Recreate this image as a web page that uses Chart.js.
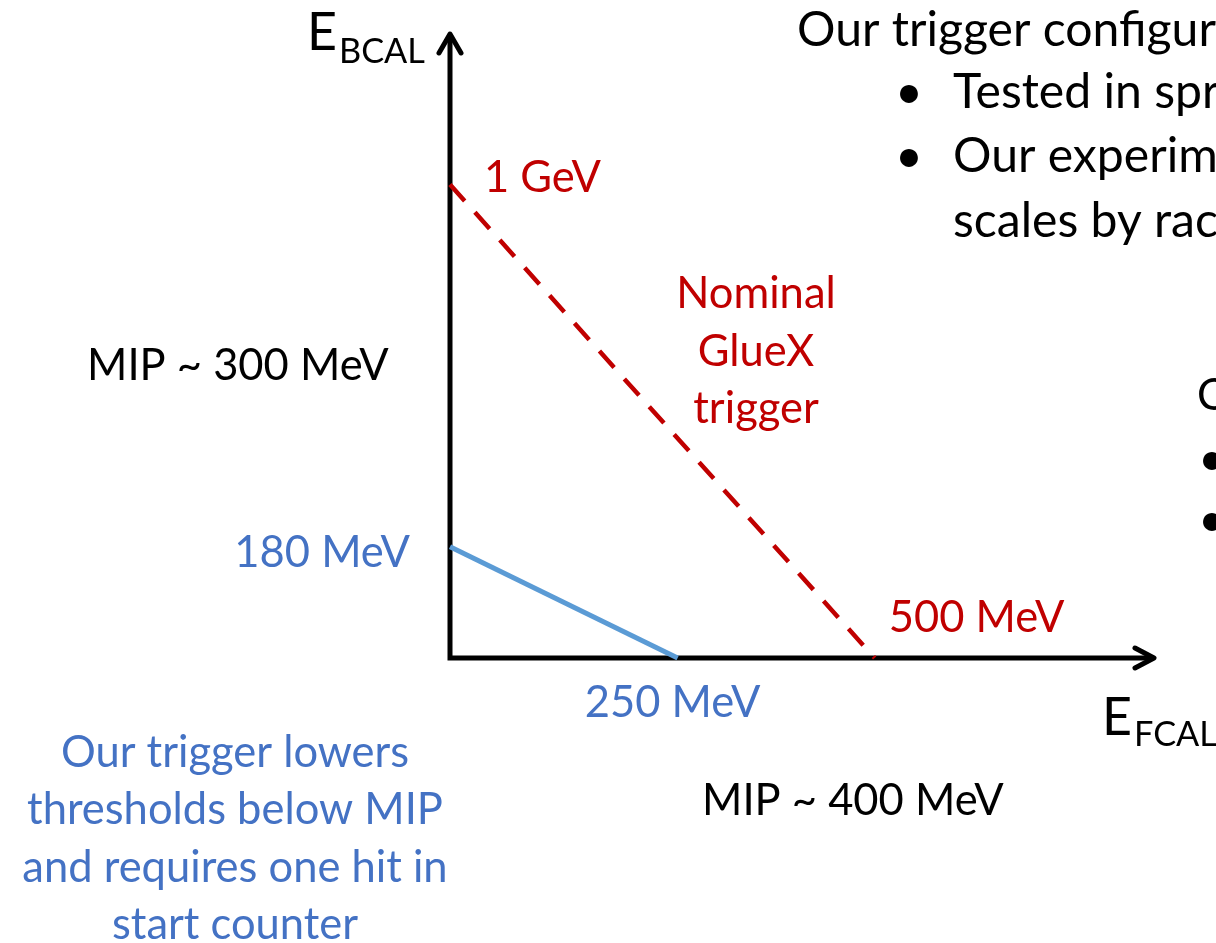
<!DOCTYPE html>
<html>
<head>
<meta charset="utf-8">
<script src="https://cdn.jsdelivr.net/npm/chart.js@4.4.1/dist/chart.umd.min.js"></script>
<style>
  html, body { margin: 0; padding: 0; background: #fff; overflow: hidden; }
  #chart { display: block; }
</style>
</head>
<body>
<canvas id="chart" width="1216" height="943"></canvas>
<script>
// schematic axes (not to scale, roughly MeV)
const xRange = [0, 830];
const yRange = [0, 1320];

// nominal GlueX trigger line
const nominalX = [0, 500];
const nominalY = [1000, 0];

// our trigger line
const oursX = [0, 268];
const oursY = [235, 0];

const nominalLabels = ["1 GeV", "500 MeV"];
const oursLabels = ["180 MeV", "250 MeV"];
const mipLabels = ["MIP ~ 300 MeV", "MIP ~ 400 MeV"];
const nominalNote = ["Nominal", "GlueX", "trigger"];
const oursNote = ["Our trigger lowers", "thresholds below MIP", "and requires one hit in", "start counter"];
const sideText = ["Our trigger configuration", "Tested in spring", "Our experiment", "scales by rack"];

const RED = "#C00000";
const BLUE_TXT = "#4472C4";
const BLUE_LINE = "#5B9BD5";
const FONT = "Lato, 'Open Sans', sans-serif";

const toPoints = (xs, ys) => xs.map((x, i) => ({ x: x, y: ys[i] }));

const ctx0 = document.getElementById("chart").getContext("2d");
// font size that makes a string as wide as it is on the slide
function fit(s, w) {
  ctx0.font = "100px " + FONT;
  return 100 * w / ctx0.measureText(s).width;
}
const bodyPx = (fit(mipLabels[0], 296) + fit(oursNote[0], 350) + fit(oursNote[1], 422)) / 3;
const sidePx = fit("Our trigger configur", 419);
const bigEPx = fit("E", 30);
const subPx = fit("BCAL", 86);

function txt(ctx, s, x, y, color, px, align) {
  ctx.font = px + "px " + FONT;
  ctx.fillStyle = color;
  ctx.textAlign = align || "left";
  ctx.textBaseline = "alphabetic";
  ctx.fillText(s, x, y);
}

const slidePlugin = {
  id: "slide",
  beforeDatasetsDraw(chart) {
    const ctx = chart.ctx;
    const xs = chart.scales.x, ys = chart.scales.y;
    const x0 = xs.getPixelForValue(xRange[0]);
    const y0 = ys.getPixelForValue(yRange[0]);
    const xEnd = xs.getPixelForValue(xRange[1]);
    const yEnd = ys.getPixelForValue(yRange[1]);
    ctx.save();
    ctx.strokeStyle = "#000";
    ctx.lineWidth = 5;
    ctx.lineJoin = "miter";
    ctx.beginPath();
    ctx.moveTo(x0, yEnd + 3);
    ctx.lineTo(x0, y0);
    ctx.lineTo(xEnd - 3, y0);
    ctx.stroke();
    // arrow heads
    ctx.lineCap = "round";
    ctx.lineJoin = "round";
    ctx.beginPath();
    ctx.moveTo(xEnd - 20, y0 - 10);
    ctx.lineTo(xEnd - 1, y0);
    ctx.lineTo(xEnd - 20, y0 + 10);
    ctx.moveTo(x0 - 11, yEnd + 20);
    ctx.lineTo(x0, yEnd + 1);
    ctx.lineTo(x0 + 11, yEnd + 20);
    ctx.stroke();
    ctx.restore();
  },
  afterDatasetsDraw(chart) {
    const ctx = chart.ctx;
    const xs = chart.scales.x, ys = chart.scales.y;
    const px = (x) => xs.getPixelForValue(x);
    const py = (y) => ys.getPixelForValue(y);
    const b = bodyPx;
    ctx.save();

    // axis titles
    txt(ctx, "E", 307, 50, "#000", bigEPx);
    txt(ctx, "BCAL", 339, 63, "#000", subPx);
    txt(ctx, "E", 1102, 735, "#000", bigEPx);
    txt(ctx, "FCAL", 1134, 746, "#000", subPx);

    // intercept labels
    txt(ctx, nominalLabels[0], px(nominalX[0]) + 34, py(nominalY[0]) + 7, RED, b);
    txt(ctx, nominalLabels[1], px(nominalX[1]) + 14, py(nominalY[1]) - 26, RED, b);
    txt(ctx, oursLabels[0], px(oursX[0]) - 40, py(oursY[0]) + 20, BLUE_TXT, b, "right");
    txt(ctx, oursLabels[1], px(oursX[1]) - 5, py(oursY[1]) + 59, BLUE_TXT, b, "center");

    // MIP notes
    txt(ctx, mipLabels[0], 87, 380, "#000", b);
    txt(ctx, mipLabels[1], 702, 815, "#000", b);

    // nominal trigger note
    nominalNote.forEach((s, i) => txt(ctx, s, 756, 308 + i * 57.5, RED, b, "center"));
    // our trigger note
    oursNote.forEach((s, i) => txt(ctx, s, 235, 767 + i * 57.3, BLUE_TXT, b, "center"));

    // clipped text on the right of the slide
    txt(ctx, sideText[0], 797, 46, "#000", sidePx);
    txt(ctx, "\u2022", 895, 108, "#000", sidePx);
    txt(ctx, sideText[1], 953, 108, "#000", sidePx);
    txt(ctx, "\u2022", 895, 172, "#000", sidePx);
    txt(ctx, sideText[2], 953, 172, "#000", sidePx);
    txt(ctx, sideText[3], 953, 237, "#000", sidePx);
    txt(ctx, "C", 1197, 410, "#000", b);
    txt(ctx, "\u2022", 1198, 475, "#000", sidePx);
    txt(ctx, "\u2022", 1198, 536, "#000", sidePx);
    ctx.restore();
  }
};

new Chart(ctx0, {
  type: "scatter",
  data: {
    datasets: [
      {
        label: "Nominal GlueX trigger",
        data: toPoints(nominalX, nominalY),
        showLine: true,
        borderColor: RED,
        borderWidth: 4.5,
        borderDash: [22, 15.3],
        borderCapStyle: "butt",
        pointRadius: 0,
        clip: false
      },
      {
        label: "Our trigger",
        data: toPoints(oursX, oursY),
        showLine: true,
        borderColor: BLUE_LINE,
        borderWidth: 5,
        pointRadius: 0,
        clip: false
      }
    ]
  },
  options: {
    responsive: false,
    animation: false,
    layout: { padding: { left: 450, right: 61, top: 33, bottom: 285 } },
    plugins: { legend: { display: false }, tooltip: { enabled: false } },
    scales: {
      x: { type: "linear", min: xRange[0], max: xRange[1], display: false },
      y: { type: "linear", min: yRange[0], max: yRange[1], display: false }
    }
  },
  plugins: [slidePlugin]
});
</script>
</body>
</html>
